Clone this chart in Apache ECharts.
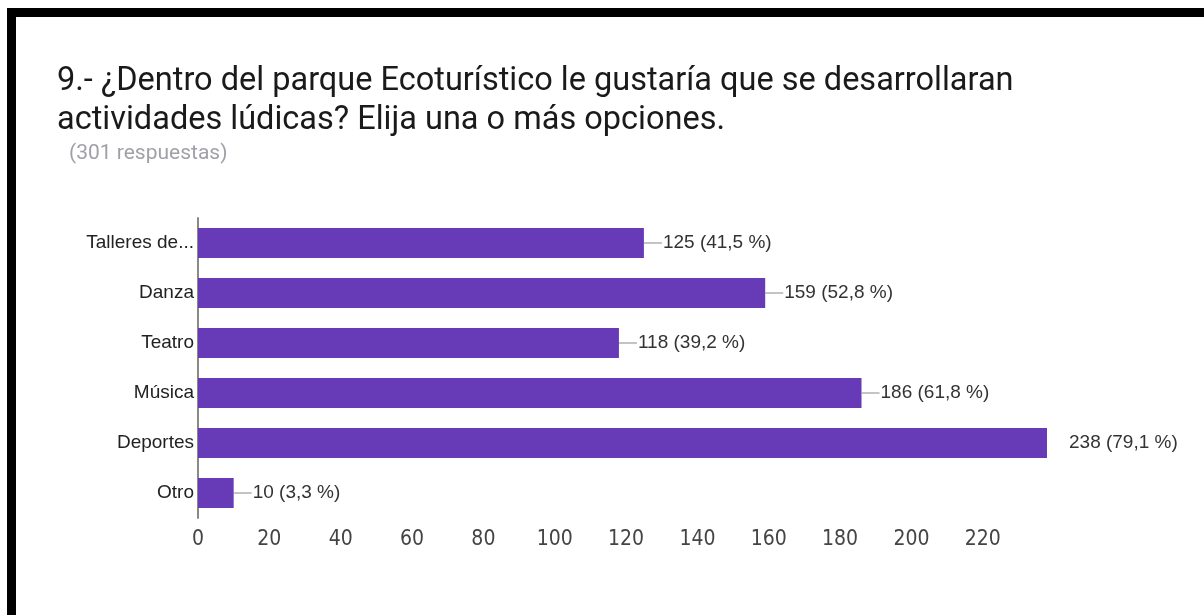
<!DOCTYPE html>
<html>
<head>
<meta charset="utf-8">
<style>
  html, body { margin: 0; padding: 0; background: #fff; }
  #chart { width: 1204px; height: 615px; }
</style>
<script src="https://cdn.jsdelivr.net/npm/echarts@6/dist/echarts.min.js"></script>
</head>
<body>
<div id="chart"></div>
<script>
var categories = ['Talleres de...', 'Danza', 'Teatro', 'Música', 'Deportes', 'Otro'];
var counts = [125, 159, 118, 186, 238, 10];
var percents = ['41,5', '52,8', '39,2', '61,8', '79,1', '3,3'];

var axisFont = 'Liberation Sans Narrow, Arial Narrow, DejaVu Sans Condensed, sans-serif';
var textFont = 'Liberation Sans, Arial, sans-serif';

var chart = echarts.init(document.getElementById('chart'));

var option = {
  backgroundColor: '#fff',
  animation: false,
  title: [{
    text: '9.- ¿Dentro del parque Ecoturístico le gustaría que se desarrollaran\nactividades lúdicas? Elija una o más opciones.',
    left: 52,
    top: 57,
    textStyle: { fontFamily: 'Roboto', fontSize: 32.5, fontWeight: 'normal', color: '#1a1a1a', lineHeight: 39 }
  }, {
    text: '(301 respuestas)',
    left: 64,
    top: 138,
    textStyle: { fontFamily: 'Roboto', fontSize: 21, fontWeight: 'normal', color: '#a0a0a8' }
  }],
  // marco negro arriba y a la izquierda
  graphic: [
    { type: 'rect', shape: { x: 7, y: 8, width: 1197, height: 9 }, style: { fill: '#000' } },
    { type: 'rect', shape: { x: 7, y: 8, width: 9, height: 607 }, style: { fill: '#000' } }
  ],
  grid: { left: 198, top: 218, width: 849, height: 300, containLabel: false },
  xAxis: {
    type: 'value',
    min: 0,
    max: 238,
    interval: 20,
    axisLine: { show: false },
    axisTick: { show: false },
    splitLine: { show: false },
    axisLabel: {
      margin: 11,
      showMaxLabel: false,
      fontFamily: axisFont,
      fontSize: 21,
      color: '#444',
      formatter: function (v) { return v % 20 === 0 ? v : ''; }
    }
  },
  yAxis: {
    type: 'category',
    data: categories,
    inverse: true,
    axisLine: { show: true, lineStyle: { color: '#888', width: 2 } },
    axisTick: { show: false },
    axisLabel: { margin: 4, fontFamily: textFont, fontSize: 19, color: '#222' }
  },
  series: [{
    type: 'bar',
    data: counts,
    barCategoryGap: '40%',
    itemStyle: { color: '#673ab7' },
    label: {
      show: true,
      position: 'right',
      distance: 0,
      fontFamily: textFont,
      fontSize: 19,
      color: '#333',
      formatter: function (p) {
        var lead = p.value === 238 ? 'g' : 'l';
        return '{' + lead + '|}{t|' + p.value + ' (' + percents[p.dataIndex] + ' %)}';
      },
      rich: {
        l: { width: 18, height: 1, backgroundColor: '#888' },
        g: { width: 21, height: 1, backgroundColor: '#fff' },
        t: { fontFamily: textFont, fontSize: 19, color: '#333', padding: [0, 0, 0, 1] }
      }
    }
  }]
};

chart.setOption(option);
</script>
</body>
</html>
